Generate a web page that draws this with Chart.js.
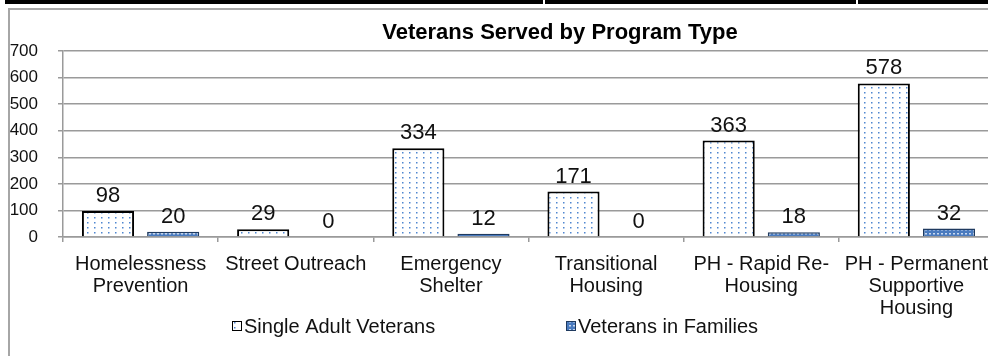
<!DOCTYPE html>
<html>
<head>
<meta charset="utf-8">
<title>Veterans Served by Program Type</title>
<script src="https://cdn.jsdelivr.net/npm/chart.js@4.4.1/dist/chart.umd.min.js"></script>
<style>
  html, body { margin: 0; padding: 0; background: #fff; overflow: hidden; }
  body { width: 988px; height: 356px; position: relative; }
  .rule { position: absolute; top: 0; left: 5px; right: 0; height: 4px; background: #000; }
  .rule-gap { position: absolute; top: 0; width: 2px; height: 4px; background: #fff; }
  .frame { position: absolute; left: 8px; top: 8px; width: 1000px; height: 400px;
           border-left: 2px solid #a6a6a6; border-top: 2px solid #a6a6a6; }
  .chart-box { position: absolute; left: 0; top: 0; width: 1000px; height: 356px; }
</style>
</head>
<body>
<div class="rule"></div>
<div class="rule-gap" style="left:543px"></div>
<div class="rule-gap" style="left:856px"></div>
<div class="frame"></div>
<div class="chart-box"><canvas id="programChart"></canvas></div>
<script>
// program types and counts
const programTypes = [
  ['Homelessness', 'Prevention'],
  'Street Outreach',
  ['Emergency', 'Shelter'],
  ['Transitional', 'Housing'],
  ['PH - Rapid Re-', 'Housing'],
  ['PH - Permanent', 'Supportive', 'Housing']
];
const singleAdultVeterans = [98, 29, 334, 171, 363, 578];
const veteransInFamilies = [20, 0, 12, 0, 18, 32];
const yTicks = [0, 100, 200, 300, 400, 500, 600, 700];

const FONT = "'Liberation Sans', Arial, sans-serif";
const GRID = '#9a9a9a';

const canvas = document.getElementById('programChart');
const ctx = canvas.getContext('2d');

// small repeating tiles for the bar fills
function tilePattern(w, h, bg, fg, dots) {
  const tile = document.createElement('canvas');
  tile.width = w;
  tile.height = h;
  const g = tile.getContext('2d');
  g.fillStyle = bg;
  g.fillRect(0, 0, w, h);
  g.fillStyle = fg;
  dots.forEach(([x, y, dw, dh]) => g.fillRect(x, y, dw, dh));
  return ctx.createPattern(tile, 'repeat');
}

const dottedWhite = tilePattern(7, 5, '#ffffff', '#4f86d0', [[3, 2, 1.5, 1.5]]);
const dottedBlue = tilePattern(4, 4, '#4a7bbf', '#c9d9ef', [[1, 1, 2, 1.5]]);

// chart heading, centred over the whole frame rather than the plot
const heading = {
  id: 'heading',
  afterDraw(chart, args, opts) {
    const c = chart.ctx;
    c.save();
    c.font = `bold 22px ${FONT}`;
    c.fillStyle = '#000';
    c.textAlign = 'center';
    c.textBaseline = 'middle';
    c.fillText(opts.text, opts.x, opts.y);
    c.restore();
  }
};

// value above each bar
const barValues = {
  id: 'barValues',
  afterDatasetsDraw(chart) {
    const c = chart.ctx;
    c.save();
    c.font = `22px ${FONT}`;
    c.fillStyle = '#111';
    c.textAlign = 'center';
    c.textBaseline = 'middle';
    chart.data.datasets.forEach((ds, i) => {
      chart.getDatasetMeta(i).data.forEach((bar, j) => {
        c.fillText(ds.data[j], bar.x, bar.y - 15);
      });
    });
    c.restore();
  }
};

// legend row under the axis labels
const boxLegend = {
  id: 'boxLegend',
  afterDraw(chart, args, opts) {
    const c = chart.ctx;
    const y = chart.scales.x.bottom + opts.offset;
    c.save();
    c.font = `20px ${FONT}`;
    c.textBaseline = 'middle';
    chart.data.datasets.forEach((ds, i) => {
      const x = opts.positions[i];
      c.fillStyle = ds.backgroundColor;
      c.fillRect(x, y - 5, 10, 10);
      c.strokeStyle = ds.borderColor;
      c.lineWidth = 1;
      c.strokeRect(x + 0.5, y - 4.5, 9, 9);
      c.fillStyle = '#111';
      c.fillText(ds.label, x + 12, y + 1);
    });
    c.restore();
  }
};

new Chart(ctx, {
  type: 'bar',
  data: {
    labels: programTypes,
    datasets: [{
      label: 'Single Adult Veterans',
      data: singleAdultVeterans,
      backgroundColor: dottedWhite,
      borderColor: '#000',
      borderWidth: 2,
      borderSkipped: 'start'
    }, {
      label: 'Veterans in Families',
      data: veteransInFamilies,
      backgroundColor: dottedBlue,
      borderColor: '#1f3a5f',
      borderWidth: 1.5,
      borderSkipped: 'start'
    }]
  },
  options: {
    responsive: true,
    maintainAspectRatio: false,
    animation: false,
    categoryPercentage: 0.84,
    barPercentage: 0.8,
    layout: { padding: { top: 51, left: 10, right: 6, bottom: 26 } },
    scales: {
      x: {
        offset: true,
        grid: { drawOnChartArea: false, tickLength: 5, color: GRID, lineWidth: 1.5 },
        border: { color: GRID, width: 1.5 },
        ticks: {
          color: '#111',
          padding: 11,
          maxRotation: 0,
          autoSkip: false,
          font: { family: FONT, size: 20, lineHeight: 1.1 }
        }
      },
      y: {
        min: 0,
        max: 700,
        afterBuildTicks: s => { s.ticks = yTicks.map(v => ({ value: v })); },
        afterFit: s => { s.width = 53; },
        grid: { color: GRID, lineWidth: 1.5, tickLength: 5 },
        border: { color: GRID, width: 1.5 },
        ticks: {
          color: '#111',
          padding: 20,
          font: { family: FONT, size: 17 }
        }
      }
    },
    plugins: {
      legend: { display: false },
      tooltip: { enabled: false },
      title: { display: false },
      heading: { text: 'Veterans Served by Program Type', x: 560, y: 33 },
      boxLegend: { offset: -4, positions: [232, 566] }
    }
  },
  plugins: [heading, barValues, boxLegend]
});
</script>
</body>
</html>
